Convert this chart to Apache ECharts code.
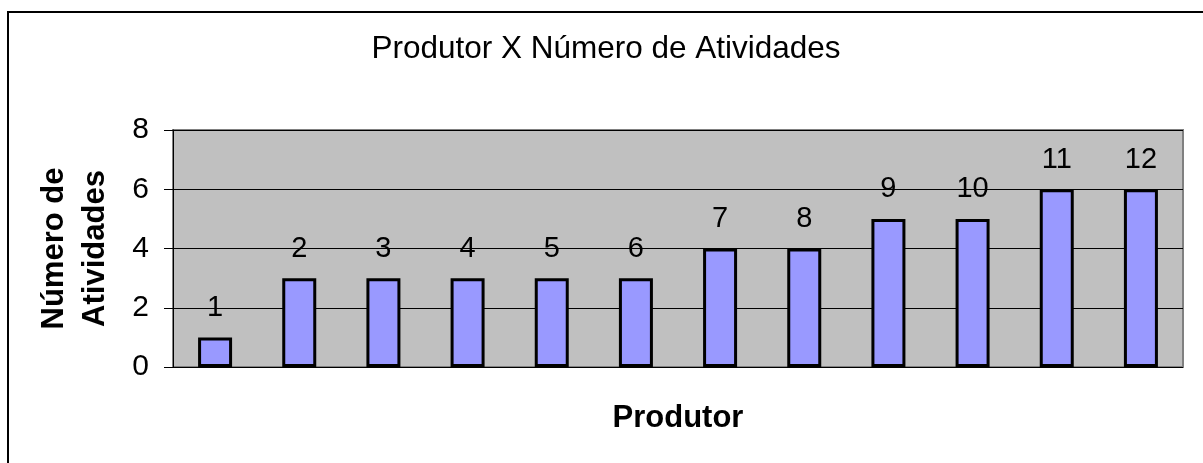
<!DOCTYPE html>
<html lang="pt">
    <head>
        <title>Produtor X Número de Atividades</title>
        <meta charset="utf-8">
        <script src='https://cdn.jsdelivr.net/npm/echarts@6/dist/echarts.min.js'></script>
    </head>

    <style>
        html, body, #main {
            width: 100%;
            height: 100%;
            margin: 0;
            background: #fff;
        }
    </style>

    <body>
        <div id='main'></div>

        <script>
            const produtores = ['1', '2', '3', '4', '5', '6', '7', '8', '9', '10', '11', '12'];
            const atividades = [1, 3, 3, 3, 3, 3, 4, 4, 5, 5, 6, 6];
            const yTicks = [0, 2, 4, 6, 8];

            const font = 'Liberation Sans, Arial, sans-serif';

            const chart = echarts.init(document.getElementById('main'));

            const option = {
                animation: false,
                title: {
                    text: 'Produtor X Número de Atividades',
                    left: 601,
                    top: 28,
                    textAlign: 'center',
                    textStyle: {
                        fontFamily: font,
                        fontSize: 31.5,
                        fontWeight: 'normal',
                        color: '#000'
                    }
                },
                graphic: [ {
                    type: 'rect',
                    shape: { x: 8, y: 12, width: 1400, height: 700 },
                    style: { fill: 'none', stroke: '#000', lineWidth: 2 },
                    silent: true
                } ],
                grid: {
                    left: 173,
                    right: 20,
                    top: 130,
                    bottom: 96,
                    show: true,
                    backgroundColor: '#C0C0C0',
                    borderColor: '#808080',
                    borderWidth: 2
                },
                xAxis: {
                    type: 'category',
                    data: produtores,
                    name: 'Produtor',
                    nameLocation: 'middle',
                    nameGap: 36,
                    nameTextStyle: {
                        fontFamily: font,
                        fontSize: 31,
                        fontWeight: 'bold',
                        color: '#000'
                    },
                    axisLine: { show: false },
                    axisTick: { show: false },
                    axisLabel: { show: false }
                },
                yAxis: {
                    type: 'value',
                    min: yTicks[0],
                    max: yTicks[yTicks.length - 1],
                    interval: yTicks[1] - yTicks[0],
                    name: 'Número de\nAtividades',
                    nameLocation: 'middle',
                    nameGap: 57,
                    nameTextStyle: {
                        fontFamily: font,
                        fontSize: 31,
                        fontWeight: 'bold',
                        lineHeight: 41,
                        color: '#000'
                    },
                    axisLine: { show: true, lineStyle: { color: '#000', width: 1 } },
                    axisTick: { show: true, length: 9, lineStyle: { color: '#000' } },
                    axisLabel: {
                        margin: 24,
                        fontFamily: font,
                        fontSize: 30,
                        color: '#000'
                    },
                    splitLine: { lineStyle: { color: '#000', width: 1 } }
                },
                series: [ {
                    type: 'bar',
                    data: atividades,
                    barWidth: 34,
                    itemStyle: {
                        color: '#9999FF',
                        borderColor: '#000',
                        borderWidth: 3
                    },
                    label: {
                        show: true,
                        position: 'top',
                        distance: 15,
                        formatter: '{b}',
                        fontFamily: font,
                        fontSize: 29,
                        color: '#000'
                    }
                } ]
            };

            chart.setOption(option);

            window.onresize = function () {
                chart.resize();
            }
        </script>
    </body>
</html>
